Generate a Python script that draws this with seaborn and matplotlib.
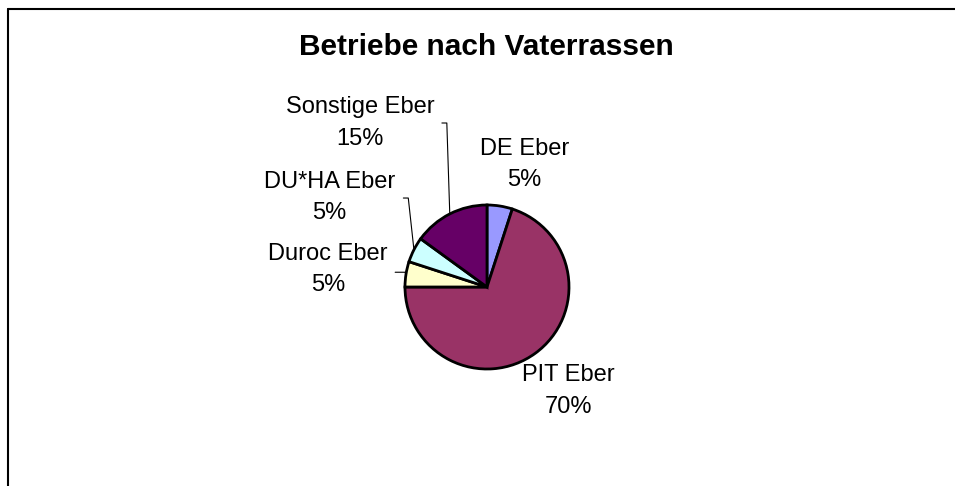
import numpy as np
import matplotlib
matplotlib.use("Agg")
import matplotlib.pyplot as plt
from matplotlib.lines import Line2D
import seaborn as sns

# ── Data ───────────────────────────────────────────────
breeds = ["DE Eber", "PIT Eber", "Duroc Eber", "DU*HA Eber", "Sonstige Eber"]
shares = [5, 70, 5, 5, 15]
colors = ["#9999FF", "#993366", "#FFFFCC", "#CCFFFF", "#660066"]
title = "Betriebe nach Vaterrassen"

# label centres (data units, pie radius = 1) and leader-line starts (None = no line)
label_pos = [(0.46, 1.49), (0.99, -1.27), (-1.94, 0.21), (-1.92, 1.09), (-1.55, 2.0)]
leader_start = [None, None, (-1.12, 0.18), (-1.02, 1.085), (-0.55, 2.0)]
leader_knee = [None, None, (-1.0, 0.18), (-0.96, 1.085), (-0.49, 2.0)]

# ── Style ──────────────────────────────────────────────
sns.set_theme(style="white")
plt.rcParams["font.family"] = ["Liberation Sans", "DejaVu Sans"]
plt.rcParams["text.color"] = "black"

W, H = 955, 486
fig = plt.figure(figsize=(W / 100, H / 100), dpi=100)
fig.patch.set_facecolor("white")

cx, cy, r = 487, 287, 82
half = 200
L = half / r
ax = fig.add_axes([(cx - half) / W, (H - cy - half) / H, 2 * half / W, 2 * half / H])

wedges, _ = ax.pie(shares, colors=sns.color_palette(colors), startangle=90,
                   counterclock=False, radius=1,
                   wedgeprops=dict(edgecolor="black", linewidth=2.0))
ax.set_xlim(-L, L)
ax.set_ylim(-L, L)
ax.set_aspect("equal")
ax.axis("off")

for w, name, pct, pos, ls, lk in zip(wedges, breeds, shares, label_pos,
                                     leader_start, leader_knee):
    ax.text(pos[0], pos[1], f"{name}\n{pct}%", ha="center", va="center",
            fontsize=17, color="black", linespacing=1.55)
    if ls is not None:
        mid = np.deg2rad((w.theta1 + w.theta2) / 2)
        ex, ey = np.cos(mid), np.sin(mid)
        ax.plot([ls[0], lk[0], ex], [ls[1], lk[1], ey], color="black", lw=0.8,
                clip_on=False)

fig.text(486 / W, 1 - 47 / H, title, ha="center", va="center",
         fontsize=21.5, fontweight="bold", color="black")

# chart-area frame (left + top)
fx, fy = 7.5 / W, 1 - 9.5 / H
fig.add_artist(Line2D([fx, 1.0], [fy, fy], color="black", lw=1.5,
                      transform=fig.transFigure))
fig.add_artist(Line2D([fx, fx], [0, fy], color="black", lw=1.5,
                      transform=fig.transFigure))

fig.savefig("out.png", dpi=100)
